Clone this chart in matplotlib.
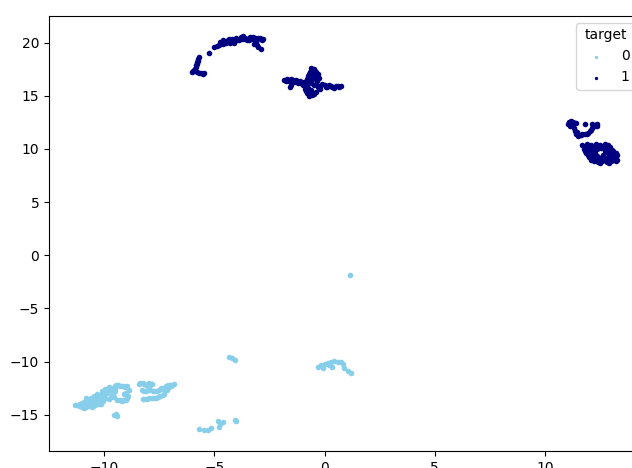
import matplotlib
matplotlib.use("Agg")
import matplotlib.pyplot as plt

# target = 1 (navy)
t1_x = [
    # arc, upper left
    -4.8, -4.7, -4.6, -4.5, -4.4, -4.3, -4.2, -4.1, -4.0, -3.9, -3.8, -3.7,
    -3.6, -3.5, -3.4, -3.3, -3.2, -3.1, -3.0, -2.9, -2.8, -4.6, -4.1, -3.7,
    -3.4, -3.2, -3.0, -2.9, -5.24,
    -4.75, -4.45, -4.35, -4.15, -3.95, -3.85, -3.65, -3.55, -3.45, -3.25,
    -3.15, -3.05, -2.95, -2.85, -3.1, -3.05, -4.9, -5.0,
    -5.7, -5.75, -5.8, -5.85, -5.9, -6.0, -5.8, -5.6, -5.45,
    -5.72, -5.78, -5.82, -5.88, -5.95, -5.7, -5.5,
    # cluster near x=0
    -1.85, -1.7, -1.6, -1.5, -1.4, -1.3, -1.2, -1.5, -1.1, -1.0,
    -0.8, -0.7, -0.6, -0.5, -0.6, -0.4, -0.5, -0.7, -0.4, -0.3, -0.6, -0.8,
    -0.5, -0.35, -0.55, -0.65,
    -0.2, -0.1, 0.05, 0.2, 0.35, 0.5, 0.65, 0.75, -0.2,
    -0.9, -0.8, -0.6, -0.5, -0.7, -0.4,
    -0.55, -0.45, -0.65, -0.75, -0.45, -0.55, -0.6, -0.4, -0.25, -0.3, 0.0,
    0.1, 0.3, 0.45, 0.6, -1.75, -1.45, -1.25, -1.1, -0.95, -0.85, -0.65,
    -0.55, -0.75, -1.55,
    # right cluster, upper ring
    11.1, 11.2, 11.3, 11.15, 11.3, 11.35, 11.4, 11.5, 11.65, 11.8, 11.95,
    12.05, 12.15, 12.25, 12.35, 12.15, 11.8,
    11.05, 11.25, 11.25, 11.4, 11.45, 11.55, 11.7, 11.9, 12.1, 12.25, 12.35,
    # right cluster, lower blob
    11.7, 11.9, 12.1, 12.3, 12.5, 12.7, 12.85,
    11.8, 12.0, 12.2, 12.4, 12.6, 12.8, 12.95,
    11.75, 11.95, 12.15, 12.35, 12.55, 12.75, 12.95, 13.05,
    11.8, 12.0, 12.2, 12.7, 12.9, 13.1,
    11.85, 12.05, 12.25, 12.85, 13.05, 13.2,
    11.95, 12.15, 12.35, 12.65, 12.9, 13.1, 13.25,
    12.0, 12.2, 12.4, 12.6, 12.8, 13.0, 13.2,
    12.1, 12.3, 12.5, 12.7, 12.9, 13.1, 13.25,
    12.2, 12.4, 12.6, 12.8, 13.0, 13.2, 12.5, 12.9,
]
t1_y = [
    19.8, 20.0, 19.9, 20.1, 20.2, 20.0, 20.3, 20.2, 20.4, 20.2, 20.5, 20.3,
    20.4, 20.2, 20.4, 20.3, 20.4, 20.3, 20.4, 20.3, 20.3, 20.2, 20.0, 20.6,
    20.5, 19.9, 19.6, 19.4, 19.06,
    20.1, 19.95, 20.35, 20.1, 20.25, 20.35, 20.45, 20.3, 20.25, 20.5,
    20.45, 20.3, 20.45, 20.2, 20.05, 19.75, 19.7, 19.6,
    18.6, 18.3, 18.0, 17.7, 17.4, 17.2, 17.2, 17.1, 17.1,
    18.45, 18.15, 17.85, 17.55, 17.3, 17.15, 17.05,
    16.5, 16.6, 16.4, 16.6, 16.3, 16.5, 16.2, 16.0, 16.4, 16.0,
    16.6, 17.0, 17.3, 17.5, 17.6, 17.2, 16.8, 16.5, 16.6, 17.0, 16.2, 16.1,
    16.0, 16.4, 17.1, 16.8,
    15.9, 16.1, 15.8, 16.0, 15.8, 15.9, 15.8, 15.9, 15.6,
    15.6, 15.3, 15.5, 15.2, 15.0, 15.4,
    17.4, 17.3, 17.2, 16.9, 16.9, 16.6, 16.4, 16.1, 16.7, 15.85, 16.0,
    15.85, 15.95, 15.75, 15.95, 16.35, 16.45, 16.35, 16.2, 16.3, 15.45, 15.35,
    15.05, 15.75, 15.85,
    12.5, 12.6, 12.4, 12.2, 12.0, 11.7, 11.4, 11.2, 11.35, 11.4, 11.5,
    11.7, 11.95, 12.15, 12.3, 12.3, 12.35,
    12.35, 12.3, 12.55, 12.45, 11.55, 11.3, 11.45, 11.45, 11.8, 12.25, 12.15,
    10.4, 10.45, 10.4, 10.5, 10.4, 10.45, 10.35,
    10.2, 10.25, 10.2, 10.25, 10.2, 10.2, 10.15,
    10.0, 10.05, 9.95, 10.0, 10.05, 9.95, 10.0, 9.9,
    9.8, 9.8, 9.85, 9.8, 9.75, 9.8,
    9.6, 9.55, 9.65, 9.6, 9.55, 9.6,
    9.4, 9.4, 9.35, 9.4, 9.4, 9.35, 9.4,
    9.2, 9.25, 9.15, 9.2, 9.15, 9.2, 9.1,
    9.0, 9.0, 9.0, 9.0, 9.0, 9.0, 9.0,
    8.85, 8.8, 8.9, 8.8, 8.85, 8.9, 8.7, 8.7,
]

# target = 0 (skyblue)
t0_x = [
    # big lower-left cluster
    -11.3, -11.15, -11.1, -10.95, -10.9, -10.8, -10.75, -10.6, -10.6, -10.5,
    -10.45, -10.4, -10.3, -10.25, -10.2, -10.1, -10.05, -10.0, -9.95, -9.85,
    -9.8, -9.8, -9.7, -9.65,
    -11.2, -11.0, -11.0, -10.85, -10.7, -10.7, -10.55, -10.5, -10.35, -10.35,
    -10.4, -10.2, -10.15, -10.15, -10.05, -9.95, -9.9, -9.75, -9.7, -10.55,
    -10.8, -10.9,
    -9.5, -9.35, -9.2, -9.05, -9.5, -9.55, -9.4, -9.2, -9.0, -8.9, -9.1, -8.85,
    -9.45, -9.3, -9.1, -8.95, -9.5, -9.6, -9.3, -9.1, -8.95, -9.0,
    -8.4, -8.25, -8.1, -7.95, -7.85, -8.3, -8.1, -7.9, -7.7, -7.5, -7.4,
    -8.25, -8.05, -7.85, -7.65, -7.45, -7.25, -7.1, -6.95, -6.85, -7.15, -7.3,
    -8.35, -8.2, -8.0, -7.9, -8.2, -8.0, -7.8, -7.6, -7.35, -8.15, -7.95,
    -7.75, -7.55, -7.35, -7.2, -7.05, -6.9, -7.2, -7.0,
    -9.55, -9.4, -9.45,
    # small groups
    -4.35, -4.2, -4.05,
    -5.7, -5.45, -5.3, -5.15, -4.85, -4.75, -4.8, -4.6, -4.05, -4.0,
    1.15,
    -0.3, -0.15, -0.05, 0.0, 0.15, 0.3, 0.45, 0.6, 0.75, 0.85, 0.9, 0.35,
    0.2, 1.05, 1.2,
]
t0_y = [
    -14.1, -14.2, -13.95, -14.1, -13.8, -14.3, -13.6, -13.9, -13.4, -14.2,
    -13.2, -13.7, -13.0, -14.0, -13.4, -12.8, -13.7, -13.2, -12.6, -12.9,
    -12.4, -13.5, -12.5, -13.1,
    -14.05, -14.25, -13.85, -14.0, -13.75, -14.15, -13.6, -13.95, -13.5, -13.85,
    -14.1, -13.15, -13.65, -13.95, -13.0, -13.45, -12.75, -12.7, -13.35, -14.3,
    -13.45, -14.35,
    -12.3, -12.2, -12.3, -12.4, -12.8, -13.3, -13.6, -13.7, -13.6, -13.2, -13.0, -12.7,
    -12.2, -12.3, -12.25, -12.3, -12.55, -13.05, -13.65, -13.65, -13.4, -12.9,
    -12.1, -12.0, -12.2, -12.0, -12.1, -12.7, -12.8, -12.7, -12.8, -12.7, -12.5,
    -13.5, -13.5, -13.4, -13.4, -13.2, -12.4, -12.2, -12.3, -12.1, -12.7, -13.0,
    -12.05, -12.1, -12.1, -12.2, -12.75, -12.7, -12.8, -12.75, -12.6, -13.55, -13.45,
    -13.45, -13.3, -13.1, -12.55, -12.35, -12.2, -12.25, -12.15,
    -15.0, -15.1, -14.9,
    -9.55, -9.7, -9.85,
    -16.35, -16.45, -16.4, -16.2, -15.6, -15.85, -16.1, -15.7, -15.45, -15.6,
    -1.85,
    -10.5, -10.35, -10.6, -10.2, -10.1, -10.0, -9.95, -10.0, -10.05, -10.25,
    -10.55, -10.5, -10.35, -10.9, -11.05,
]

fig = plt.figure(figsize=(6.32, 4.68), dpi=100)
# the original image was cropped on the right, so the axes runs past the edge
ax = fig.add_axes([49 / 632, 17 / 468, 593 / 632, 435 / 468])
ax.scatter(t0_x, t0_y, s=16, c="skyblue", linewidths=0, label="0")
ax.scatter(t1_x, t1_y, s=16, c="navy", linewidths=0, label="1")
ax.set_xlim(-12.5, 14.4)
ax.set_ylim(-18.4, 22.5)
ax.set_xticks([-10, -5, 0, 5, 10])
ax.legend(title="target", loc="upper right", markerscale=0.6)

fig.savefig("out.png", dpi=100)
